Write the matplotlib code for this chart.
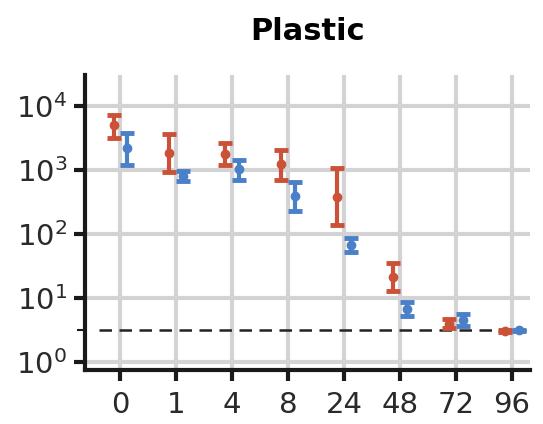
import numpy as np
import matplotlib
matplotlib.use("Agg")
import matplotlib.pyplot as plt

# time points (h)
hours = ["0", "1", "4", "8", "24", "48", "72", "96"]

# red series: value, lower, upper
red_val = [5000, 1850, 1780, 1240, 380, 21.6, 3.9, 3.1]
red_lo = [3200, 930, 1200, 700, 138, 12.9, 3.4, 3.0]
red_hi = [7200, 3600, 2650, 2050, 1070, 35, 4.7, 3.2]

# blue series: value, lower, upper
blue_val = [2200, 810, 1040, 390, 67, 6.7, 4.5, 3.16]
blue_lo = [1200, 670, 700, 230, 52, 5.2, 3.7, 3.1]
blue_hi = [3800, 960, 1430, 650, 87, 8.7, 5.6, 3.22]

limit = 10 ** 0.5

red = "#CB5237"
blue = "#4A80C8"

plt.rcParams['font.family'] = ['DejaVu Sans']

fig = plt.figure(figsize=(5.43, 4.24), dpi=100)
ax = fig.add_axes([0.157, 0.127, 0.819, 0.696])

x = np.arange(len(hours))
for vals, lo, hi, col, off in [(red_val, red_lo, red_hi, red, -0.12),
                               (blue_val, blue_lo, blue_hi, blue, 0.12)]:
    vals = np.array(vals)
    err = [vals - np.array(lo), np.array(hi) - vals]
    ax.errorbar(x + off, vals, yerr=err, fmt='o', color=col, ms=6,
                elinewidth=3, capsize=5, capthick=3.5, zorder=3)

ax.axhline(limit, xmin=0.03, xmax=0.99, color='#222222', ls=(0, (5, 3)),
           lw=1.8, zorder=2)

ax.set_yscale('log')
ax.set_ylim(10 ** -0.125, 10 ** 4.48)
ax.set_xlim(-0.625, 7.32)
ax.set_xticks(x)
ax.set_xticklabels(hours)
ax.set_yticks([1, 10, 100, 1000, 10000])
ax.yaxis.set_minor_locator(matplotlib.ticker.FixedLocator([limit]))
ax.yaxis.set_minor_formatter(matplotlib.ticker.NullFormatter())

ax.grid(True, which='major', color='#D3D3D5', lw=3)
ax.set_axisbelow(True)
for s in ['top', 'right']:
    ax.spines[s].set_visible(False)
for s in ['left', 'bottom']:
    ax.spines[s].set_linewidth(3)
    ax.spines[s].set_color('#1a1a1a')
ax.tick_params(axis='both', which='major', length=8, width=3,
               labelsize=21, color='#1a1a1a', labelcolor='#2a2a2a')
ax.tick_params(axis='x', which='major', pad=7)
ax.tick_params(axis='y', which='major', pad=5)
ax.tick_params(axis='y', which='minor', length=6, width=1.5, color='#1a1a1a')

ax.set_title("Plastic", fontsize=22, fontweight='bold', pad=25)

fig.savefig("out.png", dpi=100)
